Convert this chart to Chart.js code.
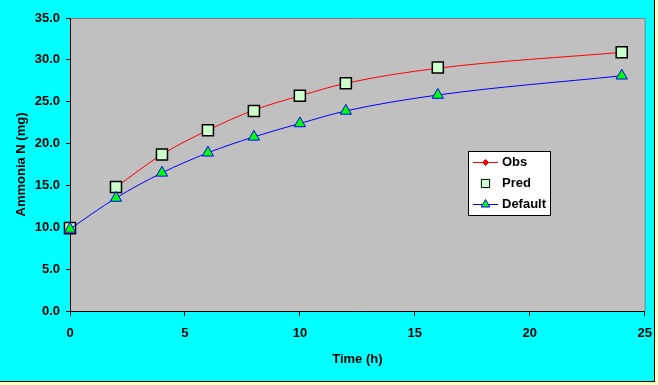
<!DOCTYPE html>
<html>
<head>
<meta charset="utf-8">
<script src="https://cdn.jsdelivr.net/npm/chart.js@4/dist/chart.umd.min.js"></script>
<style>
  body { margin: 0; background: #FFFFC0; }
  #frame { width: 654px; height: 381px; background: #00FFFF; border-right: 1px solid #000; border-bottom: 1px solid #000; }
  canvas { display: block; }
</style>
</head>
<body>
<div id="frame"><canvas id="grafico" width="654" height="381"></canvas></div>
<script>
// Dados
const obsTempo = [2, 4, 6, 8, 10, 12, 16, 24];
const obsValores = [14.8, 18.7, 21.6, 24.0, 25.7, 27.2, 29.0, 30.9];
const predTempo = [0, 2, 4, 6, 8, 10, 12, 16, 24];
const predValores = [9.9, 14.8, 18.7, 21.6, 23.9, 25.7, 27.2, 29.1, 30.9];
const defTempo = [0, 2, 4, 6, 8, 10, 12, 16, 24];
const defValores = [9.8, 13.5, 16.5, 18.9, 20.8, 22.4, 23.9, 25.8, 28.1];
const ticksX = [0, 5, 10, 15, 20, 25];
const ticksY = [0, 5, 10, 15, 20, 25, 30, 35];

function pontos(xs, ys) {
    return xs.map((x, i) => ({ x: x, y: ys[i] }));
}

// Fundo cinza da área do gráfico e bordas superior/direita
const fundoArea = {
    id: 'fundoArea',
    beforeDraw(chart) {
        const { ctx, chartArea: a } = chart;
        ctx.save();
        ctx.fillStyle = '#C0C0C0';
        ctx.fillRect(a.left, a.top, a.right - a.left, a.bottom - a.top);
        ctx.strokeStyle = '#808080';
        ctx.lineWidth = 1;
        ctx.beginPath();
        ctx.moveTo(a.left, a.top + 0.5);
        ctx.lineTo(a.right + 0.5, a.top + 0.5);
        ctx.lineTo(a.right + 0.5, a.bottom);
        ctx.stroke();
        ctx.restore();
    }
};

// Legenda no estilo Excel (linha + marcador)
const legendaCaixa = {
    id: 'legendaCaixa',
    afterDraw(chart) {
        const ctx = chart.ctx;
        const x0 = 468, y0 = 151, w = 82, h = 64;
        ctx.save();
        ctx.fillStyle = '#FFFFFF';
        ctx.fillRect(x0, y0, w, h);
        ctx.strokeStyle = '#000000';
        ctx.lineWidth = 1;
        ctx.strokeRect(x0 + 0.5, y0 + 0.5, w, h);
        ctx.font = 'bold 13px "Liberation Sans", Arial, sans-serif';
        ctx.textBaseline = 'middle';
        ctx.textAlign = 'left';
        chart.data.datasets.forEach((ds, i) => {
            const y = y0 + 11.5 + i * 21;
            if (ds.showLine !== false) {
                ctx.strokeStyle = ds.borderColor;
                ctx.lineWidth = 1;
                ctx.beginPath();
                ctx.moveTo(x0 + 5, y);
                ctx.lineTo(x0 + 30, y);
                ctx.stroke();
            }
            ctx.fillStyle = ds.pointBackgroundColor;
            ctx.strokeStyle = ds.pointBorderColor;
            Chart.helpers.drawPoint(ctx, {
                pointStyle: ds.pointStyle,
                radius: ds.legendRadius,
                rotation: 0,
                borderWidth: ds.pointBorderWidth
            }, x0 + 17.5, y);
            ctx.fillStyle = '#000000';
            ctx.fillText(ds.label, x0 + 34, y);
        });
        ctx.restore();
    }
};

function inicializarGrafico() {
    Chart.defaults.font.family = '"Liberation Sans", Arial, sans-serif';
    Chart.defaults.font.size = 13;
    Chart.defaults.font.weight = 'bold';
    Chart.defaults.color = '#000000';

    const ctx = document.getElementById('grafico').getContext('2d');
    new Chart(ctx, {
        type: 'line',
        data: {
            datasets: [{
                label: 'Obs',
                data: pontos(obsTempo, obsValores),
                borderColor: '#FF0000',
                borderWidth: 1,
                pointStyle: 'rectRot',
                pointRadius: 2.5,
                legendRadius: 3,
                pointBackgroundColor: '#FF0000',
                pointBorderColor: '#FF0000',
                pointBorderWidth: 1,
                cubicInterpolationMode: 'monotone',
                clip: false,
                order: 2
            }, {
                label: 'Pred',
                data: pontos(predTempo, predValores),
                showLine: false,
                borderColor: '#000000',
                pointStyle: 'rect',
                pointRadius: 7.8,
                legendRadius: 5.8,
                pointBackgroundColor: '#CCFFCC',
                pointBorderColor: '#000000',
                pointBorderWidth: 1.5,
                clip: false,
                order: 1
            }, {
                label: 'Default',
                data: pontos(defTempo, defValores),
                borderColor: '#0000FF',
                borderWidth: 1,
                pointStyle: 'triangle',
                pointRadius: 6.5,
                legendRadius: 5,
                pointBackgroundColor: '#00FF00',
                pointBorderColor: '#0000FF',
                pointBorderWidth: 1,
                cubicInterpolationMode: 'monotone',
                clip: false,
                order: 0
            }]
        },
        options: {
            responsive: false,
            animation: false,
            events: [],
            layout: { padding: { top: 18, right: 7, left: 0, bottom: 0 } },
            plugins: {
                legend: { display: false },
                tooltip: { enabled: false }
            },
            scales: {
                x: {
                    type: 'linear',
                    min: 0,
                    max: 25,
                    afterFit(scale) {
                        scale.height = 70;
                        scale.paddingLeft = 0;
                        scale.paddingRight = 0;
                    },
                    afterBuildTicks(scale) { scale.ticks = ticksX.map(v => ({ value: v })); },
                    grid: { display: true, drawOnChartArea: false, drawTicks: true, tickLength: 5, color: '#000000' },
                    border: { display: true, color: '#000000', width: 1 },
                    ticks: { padding: 10, maxRotation: 0, callback: v => v },
                    title: { display: true, text: 'Time (h)', padding: { top: 14, bottom: 14 } }
                },
                y: {
                    min: 0,
                    max: 35,
                    afterFit(scale) {
                        scale.width = 70;
                        scale.paddingTop = 0;
                        scale.paddingBottom = 0;
                    },
                    afterBuildTicks(scale) { scale.ticks = ticksY.map(v => ({ value: v })); },
                    grid: { display: true, drawOnChartArea: false, drawTicks: true, tickLength: 4, color: '#000000' },
                    border: { display: true, color: '#000000', width: 1 },
                    ticks: { padding: 6, callback: v => v.toFixed(1) },
                    title: { display: true, text: 'Ammonia N (mg)', padding: { top: 14, bottom: 14 } }
                }
            }
        },
        plugins: [fundoArea, legendaCaixa]
    });
}

document.addEventListener('DOMContentLoaded', inicializarGrafico);
</script>
</body>
</html>
